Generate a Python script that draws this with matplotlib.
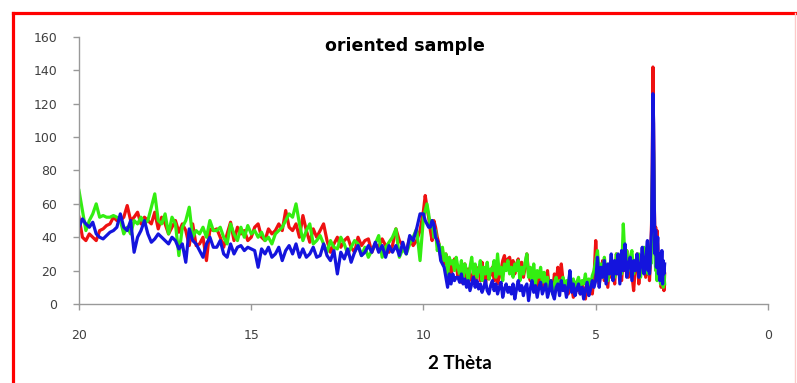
import numpy as np
import matplotlib
matplotlib.use("Agg")
import matplotlib.pyplot as plt
from matplotlib.lines import Line2D

# 2 Thèta sampling: 0.1 step 20 -> 10.1, 0.05 step 10 -> 3.55, 0.02 step 3.5 -> 3.0
theta_a = np.linspace(20.0, 10.1, 100)
theta_b = np.linspace(10.0, 3.55, 130)
theta_c = np.linspace(3.50, 3.00, 26)
theta = np.concatenate([theta_a, theta_b, theta_c])

red_a = [52, 40, 38, 42, 40, 38, 44, 45, 47, 48,
         52, 50, 50, 52, 59, 50, 52, 55, 48, 52,
         50, 48, 55, 45, 52, 48, 42, 46, 50, 43,
         48, 44, 35, 48, 35, 36, 40, 26, 45, 44,
         45, 40, 34, 42, 49, 38, 46, 42, 44, 38,
         40, 46, 48, 40, 38, 45, 42, 44, 48, 44,
         56, 46, 44, 48, 40, 53, 44, 37, 45, 40,
         44, 48, 38, 31, 36, 40, 34, 38, 40, 34,
         31, 40, 35, 38, 39, 31, 36, 34, 39, 35,
         31, 35, 45, 38, 35, 31, 40, 35, 38, 44]
red_b = [56, 65, 58, 52, 44, 38, 50, 46, 40, 36,
         28, 32, 24, 30, 20, 26, 18, 22, 27, 24,
         16, 22, 13, 20, 24, 15, 21, 17, 14, 20,
         12, 18, 22, 14, 25, 16, 12, 20, 15, 18,
         22, 14, 18, 12, 16, 20, 26, 29, 22, 27,
         28, 22, 26, 18, 24, 27, 20, 25, 16, 22,
         30, 18, 14, 20, 12, 16, 10, 18, 14, 9,
         16, 12, 20, 10, 14, 8, 18, 12, 22, 10,
         24, 14, 8, 12, 6, 16, 10, 4, 13, 8,
         14, 6, 12, 9, 3, 14, 8, 12, 6, 16,
         38, 20, 12, 18, 26, 14, 22, 10, 24, 16,
         20, 12, 30, 18, 24, 14, 28, 20, 32, 16,
         26, 18, 8, 22, 30, 12, 24, 20, 28, 16]
red_c = [30, 18, 26, 14, 22, 34, 48, 78, 142, 104, 60, 38, 46,
         28, 44, 36, 20, 30, 16, 24, 10, 22, 14, 20, 8, 18]

green_a = [68, 56, 44, 50, 54, 60, 52, 53, 52, 52,
           53, 52, 50, 42, 46, 42, 50, 48, 52, 48,
           50, 58, 66, 50, 48, 54, 42, 52, 48, 29,
           46, 50, 58, 40, 44, 42, 46, 40, 50, 44,
           44, 46, 40, 36, 48, 42, 38, 46, 40, 47,
           42, 44, 40, 43, 38, 40, 36, 42, 44, 46,
           50, 54, 52, 60, 48, 38, 44, 48, 36, 38,
           41, 36, 31, 38, 34, 33, 40, 36, 30, 34,
           38, 36, 29, 34, 28, 32, 36, 41, 28, 34,
           37, 40, 45, 28, 33, 30, 36, 40, 45, 26]
green_b = [52, 56, 60, 54, 46, 50, 40, 44, 32, 36,
           30, 34, 26, 30, 17, 28, 24, 26, 20, 28,
           22, 18, 26, 16, 24, 20, 14, 22, 28, 18,
           24, 16, 20, 26, 14, 22, 18, 25, 15, 21,
           20, 26, 16, 30, 18, 22, 14, 24, 20, 26,
           18, 22, 16, 24, 20, 26, 14, 22, 18, 25,
           30, 16, 22, 14, 24, 12, 20, 16, 22, 13,
           19, 11, 16, 8, 14, 6, 12, 16, 10, 14,
           12, 16, 9, 14, 11, 18, 10, 15, 8, 13,
           16, 10, 14, 12, 18, 9, 15, 11, 17, 20,
           26, 32, 18, 24, 16, 28, 20, 14, 22, 18,
           24, 16, 30, 22, 26, 18, 48, 26, 32, 20,
           28, 32, 18, 26, 22, 30, 16, 24, 34, 20]
green_c = [26, 18, 28, 22, 30, 24, 36, 70, 100, 90, 50, 28, 20,
           32, 14, 26, 18, 30, 20, 12, 24, 16, 22, 10, 18, 12]

blue_a = [46, 51, 48, 46, 49, 42, 40, 39, 41, 43,
          44, 46, 54, 46, 44, 50, 31, 40, 44, 50,
          42, 37, 39, 42, 40, 38, 36, 40, 38, 33,
          36, 25, 45, 38, 36, 32, 28, 36, 40, 34,
          34, 38, 30, 28, 36, 30, 34, 35, 32, 34,
          33, 32, 22, 33, 30, 34, 28, 30, 34, 26,
          32, 35, 30, 36, 28, 33, 28, 30, 34, 28,
          29, 36, 29, 26, 32, 18, 31, 27, 33, 25,
          31, 35, 29, 31, 35, 31, 37, 31, 35, 28,
          35, 31, 35, 29, 37, 30, 41, 38, 45, 54]
blue_b = [54, 50, 48, 46, 46, 50, 48, 40, 38, 34,
          26, 24, 22, 16, 10, 18, 12, 18, 14, 16,
          16, 13, 18, 12, 15, 10, 14, 8, 12, 16,
          10, 14, 9, 12, 7, 10, 14, 8, 6, 11,
          14, 8, 12, 6, 10, 13, 4, 9, 12, 7,
          10, 6, 12, 3, 9, 14, 8, 11, 5, 10,
          12, 2, 9, 14, 7, 11, 4, 10, 13, 6,
          9, 12, 4, 8, 14, 6, 3, 10, 12, 5,
          14, 8, 11, 4, 10, 20, 7, 12, 5, 9,
          12, 6, 10, 3, 8, 13, 5, 9, 14, 10,
          14, 28, 10, 22, 16, 26, 12, 24, 18, 30,
          14, 26, 18, 30, 12, 32, 20, 36, 16, 24,
          28, 14, 26, 20, 30, 16, 22, 34, 18, 26]
blue_c = [38, 20, 30, 18, 24, 36, 44, 80, 126, 108, 60, 30, 44,
          22, 34, 40, 18, 30, 14, 28, 20, 32, 12, 26, 18, 24]

red = red_a + red_b + red_c
green = green_a + green_b + green_c
blue = blue_a + blue_b + blue_c

fig = plt.figure(figsize=(7.97, 3.83), dpi=100)
ax = fig.add_axes([0.0991, 0.2063, 0.8645, 0.6971])

ax.plot(theta, red, color="#ee1111", lw=2.3)
ax.plot(theta, green, color="#33ee11", lw=2.3)
ax.plot(theta, blue, color="#1414dd", lw=2.3)

ax.set_xlim(20, 0)
ax.set_ylim(0, 160)
ax.set_xticks([20, 15, 10, 5, 0])
ax.set_yticks(range(0, 161, 20))

for s in ["top", "right"]:
    ax.spines[s].set_visible(False)
for s in ["left", "bottom"]:
    ax.spines[s].set_color("#999999")
    ax.spines[s].set_linewidth(1.0)

ax.tick_params(axis="y", direction="out", length=4.5, width=1, color="#999999",
               labelsize=9, labelcolor="#404040", pad=11)
ax.tick_params(axis="x", direction="out", length=4, width=1, color="#999999",
               labelsize=9, labelcolor="#404040", pad=14)

fig.text(0.508, 0.88, "oriented sample", fontsize=12.5, fontweight="bold",
         ha="center", va="center")
fig.text(0.577, 0.050, "2 Thèta", fontsize=13.5, fontweight="bold",
         family="Lato", ha="center", va="center")

# red frame around the picture
fig.add_artist(Line2D([0.0157, 1.0], [0.966, 0.966], color="#ff0000", lw=2.3))
fig.add_artist(Line2D([0.0157, 0.0157], [0.0, 0.966], color="#ff0000", lw=2.3))
fig.add_artist(Line2D([0.9975, 0.9975], [0.0, 0.966], color="#ffc8c8", lw=1))

fig.savefig("out.png", dpi=100)
